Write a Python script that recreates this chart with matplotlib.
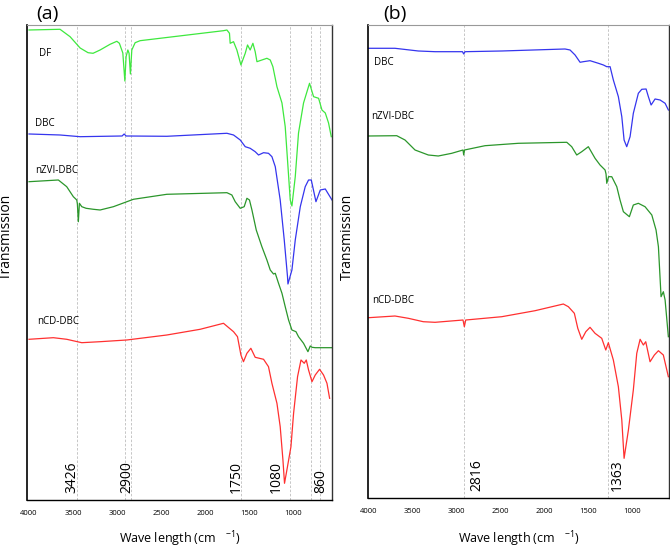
import numpy as np
import matplotlib
matplotlib.use('Agg')
import matplotlib.pyplot as plt

plt.rcParams['font.family'] = ['Open Sans', 'DejaVu Sans']
plt.rcParams['mathtext.fontset'] = 'custom'
plt.rcParams['mathtext.rm'] = 'Open Sans'

# ---------------- panel (a) spectra (wavenumber, transmission a.u.) ----------------
df_w = [4000, 3648, 3534, 3420, 3330, 3273, 3193, 3080, 3003, 2974, 2935, 2912, 2898, 2878, 2864,
        2849, 2833, 2795, 2739, 1792, 1753, 1724, 1716, 1678, 1640, 1594, 1545, 1519, 1489, 1458,
        1432, 1412, 1356, 1299, 1261, 1231, 1185, 1128, 1091, 1065, 1034, 1015, 977, 940, 883,
        815, 769, 712, 674, 636, 599, 568]
df_t = [470, 470.7, 463.3, 452, 447.3, 446.7, 450, 455.7, 458.7, 456.7, 447, 419, 443.3, 450, 446.7,
        426, 450, 457.3, 459.3, 469.3, 470, 466.7, 456.7, 458.3, 450, 435, 446.7, 455, 450, 456.7,
        448.3, 438.3, 440, 441.7, 440, 433.3, 413.3, 397, 373.3, 340, 300, 294, 323.3, 367, 397,
        416.7, 403.3, 401.7, 390, 387, 377, 363.3]

dbc_a_w = [4000, 3648, 3420, 2943, 2920, 2898, 2435, 1753, 1678, 1602, 1545, 1489, 1432, 1394, 1337,
           1281, 1242, 1204, 1148, 1102, 1065, 1060, 1015, 977, 920, 864, 826, 795, 742, 693, 636, 560]
dbc_a_t = [366, 365, 363.3, 364, 366, 364, 363.7, 366.7, 365, 360, 353.3, 351.7, 348.3, 345, 347.3,
           346.7, 343.3, 333.3, 300, 260, 223.3, 216, 230, 260, 293.3, 313.3, 320, 320, 298.3, 310, 311, 300]

nzvi_a_w = [4000, 3667, 3572, 3497, 3458, 3451, 3440, 3428, 3401, 3352, 3269, 3193, 3042, 2815, 2435,
            1753, 1697, 1659, 1602, 1557, 1526, 1497, 1469, 1420, 1356, 1299, 1261, 1224, 1204, 1167,
            1128, 1091, 1053, 1015, 969, 940, 883, 833, 807, 787, 750, 560]
nzvi_a_t = [318.3, 320, 313.3, 303.3, 300, 296, 278.3, 296.7, 293.3, 291.7, 290.7, 290, 293.3, 300.7, 305.7,
            307.3, 305, 298.3, 291.7, 293.3, 301.7, 300, 290, 270, 253.3, 240, 230, 226, 226.7, 216.7,
            206.7, 193.3, 180, 170, 168.3, 163.3, 156.7, 148.3, 154, 152.7, 152.3, 152.3]

ncd_a_w = [4000, 3724, 3572, 3401, 3193, 2890, 2435, 2057, 1792, 1678, 1633, 1594, 1565, 1526, 1481,
           1432, 1337, 1281, 1242, 1185, 1148, 1117, 1099, 1072, 1026, 996, 951, 912, 875, 852,
           826, 787, 750, 701, 656, 617, 587]
ncd_a_t = [160.7, 162.3, 160.7, 157.3, 158.3, 160, 165, 170.7, 176.7, 168.3, 163.3, 145, 138.3, 146.7, 151.7,
           142.7, 140.7, 133.3, 116.7, 96.7, 73.3, 40, 16.7, 30, 53.3, 86.7, 123.3, 140, 136.7, 140,
           130, 118.3, 125, 130.7, 125, 116.7, 101.7]

# ---------------- panel (b) spectra ----------------
dbc_b_w = [4000, 3697, 3432, 3242, 2930, 2916, 2901, 2484, 1765, 1708, 1651, 1594, 1557, 1481, 1386,
           1329, 1291, 1253, 1216, 1159, 1120, 1094, 1064, 1026, 989, 932, 893, 844, 818, 787,
           742, 685, 628, 591]
dbc_b_t = [449.7, 449.7, 447, 446.3, 446.3, 444, 446.3, 447, 449, 448, 443, 435.7, 436.3, 437.3, 434.7,
           433, 431.3, 431.3, 418, 401.3, 381.3, 358, 351.3, 361.3, 384.7, 404.7, 408.7, 409, 401.3, 393,
           399, 398, 394.7, 388]

nzvi_b_w = [4000, 3677, 3583, 3469, 3318, 3205, 3052, 2924, 2916, 2907, 2674, 2295, 1745, 1689, 1632,
            1575, 1500, 1424, 1367, 1310, 1299, 1291, 1270, 1234, 1177, 1140, 1102, 1034, 989, 932,
            856, 779, 731, 704, 674, 648, 628, 591]
nzvi_b_t = [362, 362.3, 358, 348, 343, 342, 344.7, 348, 343, 348, 352.3, 354.7, 355.7, 351.3, 343,
            346.3, 351.3, 339.7, 333, 328, 324, 314.7, 321.3, 321.3, 311.3, 298, 286.3, 281.3, 293, 294.7,
            291.3, 283, 268, 251.3, 201.3, 206.3, 198, 161.3]

ncd_b_w = [4000, 3697, 3545, 3375, 3242, 2924, 2909, 2893, 2484, 2106, 1784, 1727, 1659, 1620, 1575,
           1529, 1481, 1424, 1348, 1302, 1273, 1216, 1159, 1120, 1094, 1045, 989, 950, 912, 875,
           848, 799, 750, 704, 648, 591]
ncd_b_t = [180.3, 182, 179.7, 176.3, 175.7, 178, 171.3, 178, 181.3, 187.3, 194, 191.3, 184.7, 169.7, 158.7,
           166.3, 170.7, 164.7, 159.7, 148, 155.3, 138, 111.3, 78, 39.7, 68, 108, 144.7, 158.7, 153,
           156.3, 136.3, 143, 147.3, 143, 121.3]

# guide lines and peak labels
vlines_a = [3451, 2906, 2841, 1594, 1042, 799, 701]
peaks_a = ['3426', '2900', '1750', '1080', '860']
peaks_a_x = [3511, 2890, 1648, 1193, 682]
vlines_b = [2909, 1279]
peaks_b = ['2816', '1363']
peaks_b_x = [2768, 1166]

ticks = [4000, 3500, 3000, 2500, 2000, 1500, 1000]

c_df = '#3ee83e'
c_dbc = '#3535ee'
c_nzvi = '#2b962b'
c_ncd = '#ff3030'

fig = plt.figure(figsize=(6.7, 5.48), dpi=100)
ax1 = fig.add_axes([0.0407, 0.0876, 0.4548, 0.8668])
ax2 = fig.add_axes([0.5497, 0.0912, 0.4493, 0.8632])


def style_axis(ax, xlim, ytop, vlines, labels, labels_x, panel, panel_x):
    for v in vlines:
        ax.axvline(v, color='#bdbdbd', lw=0.6, ls=(0, (3, 2)), zorder=0)
    for s, x in zip(labels, labels_x):
        ax.text(x, 7, s, rotation=90, ha='center', va='bottom', fontsize=10)
    ax.set_xlim(xlim)
    ax.set_ylim(0, ytop)
    ax.set_xticks(ticks)
    ax.set_xticklabels([str(t) for t in ticks])
    ax.set_yticks([])
    ax.tick_params(axis='x', length=0, pad=7, labelsize=5.5)
    ax.spines['left'].set_linewidth(1.2)
    ax.spines['bottom'].set_linewidth(1.0)
    ax.spines['right'].set_linewidth(1.0)
    ax.spines['right'].set_color('#333333')
    ax.spines['top'].set_linewidth(0.8)
    ax.spines['top'].set_color('#999999')
    ax.set_xlabel('Wave length (cm   $^{-1}$)', fontsize=9)
    ax.set_ylabel('Transmission', fontsize=10)
    ax.text(panel_x, 1.004, panel, transform=ax.transAxes, fontsize=14, ha='left', va='bottom')


# (a)
ax1.plot(df_w, df_t, color=c_df, lw=0.9)
ax1.plot(dbc_a_w, dbc_a_t, color=c_dbc, lw=0.9)
ax1.plot(nzvi_a_w, nzvi_a_t, color=c_nzvi, lw=0.9)
ax1.plot(ncd_a_w, ncd_a_t, color=c_ncd, lw=0.9)
ax1.text(3886, 446, 'DF', fontsize=7, va='center')
ax1.text(3932, 376, 'DBC', fontsize=7, va='center')
ax1.text(3932, 329, 'nZVI-DBC', fontsize=7, va='center')
ax1.text(3909, 178, 'nCD-DBC', fontsize=7, va='center')
style_axis(ax1, (4020, 560), 475, vlines_a, peaks_a, peaks_a_x, '(a)', 0.03)
ax1.xaxis.set_label_coords(0.5, -0.062)
ax1.yaxis.set_label_coords(-0.044, 0.554)

# (b)
ax2.plot(dbc_b_w, dbc_b_t, color=c_dbc, lw=0.9)
ax2.plot(nzvi_b_w, nzvi_b_t, color=c_nzvi, lw=0.9)
ax2.plot(ncd_b_w, ncd_b_t, color=c_ncd, lw=0.9)
ax2.text(3932, 435, 'DBC', fontsize=7, va='center')
ax2.text(3969, 381, 'nZVI-DBC', fontsize=7, va='center')
ax2.text(3961, 198, 'nCD-DBC', fontsize=7, va='center')
style_axis(ax2, (4000, 580), 473, vlines_b, peaks_b, peaks_b_x, '(b)', 0.05)
ax2.xaxis.set_label_coords(0.5, -0.066)
ax2.yaxis.set_label_coords(-0.044, 0.552)

fig.savefig('out.png', dpi=100)
